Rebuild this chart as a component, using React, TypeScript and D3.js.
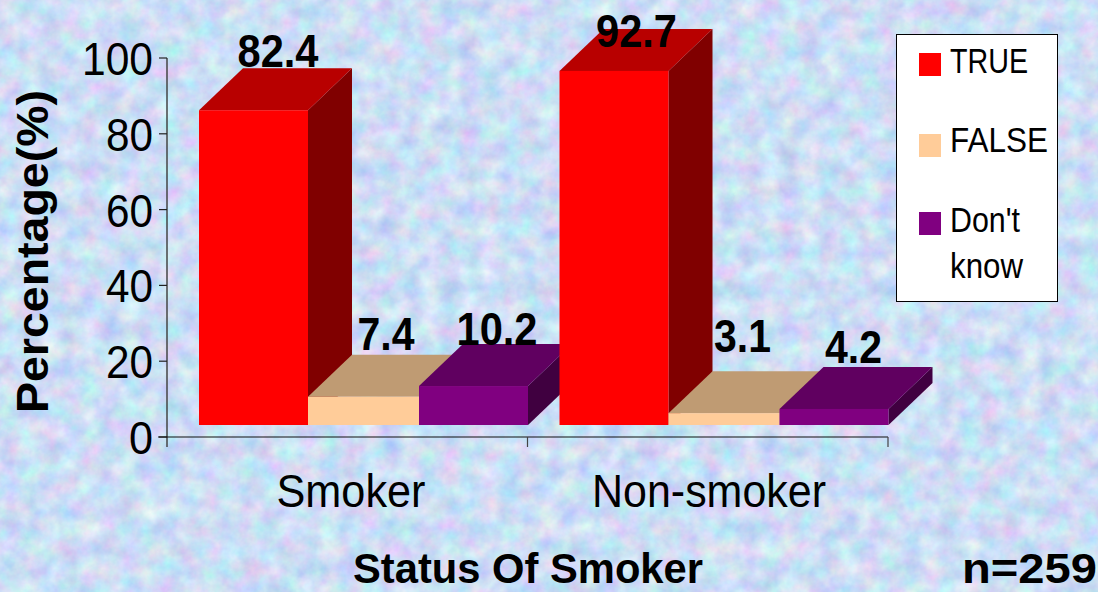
import React from "react";
import * as d3 from "d3";

const categories = ["Smoker", "Non-smoker"];
const seriesNames = ["TRUE", "FALSE", "Don't know"];
const trueValues = [82.4, 92.7];
const falseValues = [7.4, 3.1];
const dontKnowValues = [10.2, 4.2];
const yTicks = [0, 20, 40, 60, 80, 100];

const W = 1098, H = 592;
const FONT = "'Liberation Sans', Arial, sans-serif";
const palette = [
  { front: "#ff0000", top: "#b80000", side: "#800000" },
  { front: "#ffcc99", top: "#bf9b73", side: "#bf9b73" },
  { front: "#800080", top: "#600060", side: "#400040" },
];
const seriesValues = [trueValues, falseValues, dontKnowValues];
const DX = 44, DY = -42, BASE = 425;
// label offsets from the back edge of each box: [series][category] -> [centre x, baseline dy]
const labelNudge = [
  [[79, -1], [77, 18]],
  [[78, -5], [74, -19]],
  [[78, 1], [74, -4]],
];
// left and right edges of the three boxes inside a group, relative to the group's start
const slotEdges = [32, 141, 252, 361];

const y = d3.scaleLinear().domain([0, 100]).range([437, 58]);
const h = d3.scaleLinear().domain([0, 100]).range([0, 382]);
const xGroup = d3.scaleBand().domain(categories).range([167, 888]);
const barX = (c: number, s: number) => xGroup(categories[c])! + slotEdges[s];
const barEnd = (c: number, s: number) => xGroup(categories[c])! + slotEdges[s + 1];

function Txt(p: { x: number; y: number; len: number; size: number; bold?: boolean; anchor?: string; rotate?: boolean; children: React.ReactNode }) {
  return (
    <text
      x={p.rotate ? 0 : p.x}
      y={p.rotate ? 0 : p.y}
      transform={p.rotate ? `translate(${p.x},${p.y}) rotate(-90)` : undefined}
      fontFamily={FONT}
      fontSize={p.size}
      fontWeight={p.bold ? 700 : 400}
      textAnchor={p.anchor ?? "start"}
      textLength={p.len}
      lengthAdjust="spacingAndGlyphs"
      fill="#000"
    >
      {p.children}
    </text>
  );
}

export default function App() {
  const poly = (pts: number[][]) => d3.line()(pts as [number, number][])! + "Z";
  return (
    <svg width={W} height={H} style={{ position: "fixed", left: 0, top: 0, display: "block" }}>
      <defs>
        <filter id="tex" x="0" y="0" width="100%" height="100%" colorInterpolationFilters="sRGB">
          <feTurbulence type="fractalNoise" baseFrequency="0.05" numOctaves={4} seed={11} />
          <feColorMatrix
            type="matrix"
            values="0.34 0 0 0 0.63
                    0 0.28 0 0 0.73
                    0 0 0.12 0 0.90
                    0 0 0 0 1"
          />
        </filter>
      </defs>
      <rect width={W} height={H} fill="#cfdffa" />
      <rect width={W} height={H} filter="url(#tex)" />

      {/* axes */}
      <g fill="none">
        <line x1={167} x2={167} y1={y(100)} y2={447} stroke="#444" strokeWidth={1.5} />
        {yTicks.map((t) => (
          <line key={t} x1={159} x2={167} y1={y(t)} y2={y(t)} stroke="#222" strokeWidth={1.2} />
        ))}
        <line x1={158} x2={888} y1={y(0)} y2={y(0)} stroke="#111" strokeWidth={1.2} />
        {categories.map((c) => {
          const x = xGroup(c)! + xGroup.bandwidth();
          return <line key={c} x1={x} x2={x} y1={y(0)} y2={447} stroke="#444" strokeWidth={1.2} />;
        })}
      </g>

      {/* bars */}
      {categories.map((c, ci) =>
        seriesNames.map((s, si) => {
          const v = seriesValues[si][ci];
          const x0 = barX(ci, si);
          const x1 = barEnd(ci, si);
          const t = BASE - h(v);
          const col = palette[si];
          return (
            <g key={c + s}>
              <path d={poly([[x1, t], [x1 + DX, t + DY], [x1 + DX, BASE + DY], [x1, BASE]])} fill={col.side} />
              <path d={poly([[x0, t], [x0 + DX, t + DY], [x1 + DX, t + DY], [x1, t]])} fill={col.top} />
              <rect x={x0} y={t} width={x1 - x0} height={h(v)} fill={col.front} />
            </g>
          );
        })
      )}

      {/* value labels */}
      {categories.map((c, ci) =>
        seriesNames.map((s, si) => {
          const v = seriesValues[si][ci];
          const [nx, ny] = labelNudge[si][ci];
          const str = v.toFixed(1);
          return (
            <Txt key={c + s} x={barX(ci, si) + nx} y={BASE - h(v) + DY + ny} size={47} bold anchor="middle" len={str.length === 4 ? 81 : 57}>
              {str}
            </Txt>
          );
        })
      )}

      {/* tick labels */}
      {yTicks.map((t) => (
        <Txt key={t} x={153} y={y(t) + 17} size={47} anchor="end" len={t === 100 ? 71 : t === 0 ? 24 : 47}>
          {t}
        </Txt>
      ))}
      <Txt x={351} y={507} size={47} anchor="middle" len={149}>{categories[0]}</Txt>
      <Txt x={709} y={507} size={47} anchor="middle" len={234}>{categories[1]}</Txt>

      {/* titles */}
      <Txt x={48} y={413} size={44} bold rotate len={323}>Percentage(%)</Txt>
      <Txt x={353} y={583} size={42} bold len={350}>Status Of Smoker</Txt>
      <Txt x={962} y={583} size={42} bold len={135}>n=259</Txt>

      {/* legend */}
      <rect x={896.5} y={34.5} width={161} height={267} fill="#fff" stroke="#000" strokeWidth={1} />
      <rect x={919} y={53} width={22} height={23} fill={palette[0].front} />
      <rect x={919} y={134} width={22} height={23} fill={palette[1].front} />
      <rect x={919} y={212} width={22} height={23} fill={palette[2].front} />
      <Txt x={950} y={73} size={35} len={78}>{seriesNames[0]}</Txt>
      <Txt x={950} y={152} size={35} len={98}>{seriesNames[1]}</Txt>
      <Txt x={950} y={232} size={35} len={70}>Don't</Txt>
      <Txt x={950} y={278} size={35} len={73}>know</Txt>
    </svg>
  );
}
